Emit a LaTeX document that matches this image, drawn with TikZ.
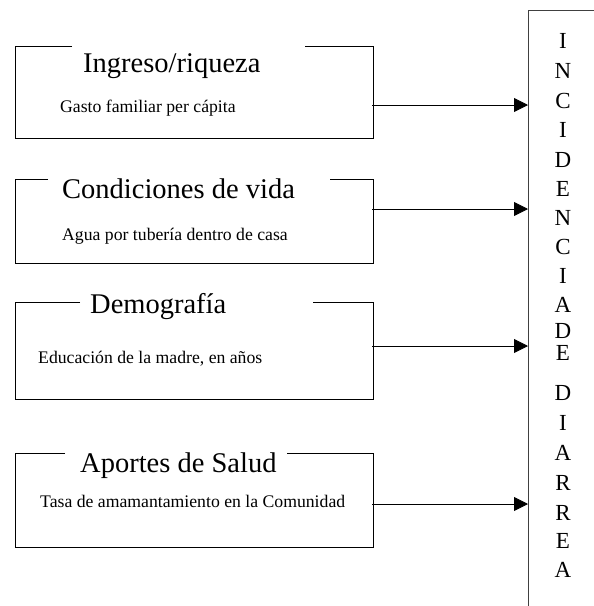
\documentclass[tikz,border=0pt]{standalone}
\usepackage{fontspec}
\setmainfont{Liberation Serif}
\usetikzlibrary{arrows.meta}

\begin{document}
\begin{tikzpicture}[x=1pt, y=-1pt,
        caja/.style={minimum width=358pt, inner sep=0pt, anchor=north west},
        titulo/.style={anchor=base west, inner sep=0pt, font=\fontsize{28.5}{34}\selectfont},
        texto/.style={anchor=base west, inner sep=0pt, font=\fontsize{17.7}{21}\selectfont},
        letra/.style={anchor=base, inner sep=0pt, font=\fontsize{23}{27}\selectfont},
        flecha/.style={-{Triangle[length=14pt, width=14pt]}, line width=0.8pt}]
        \useasboundingbox (0,0) rectangle (594,606);

        % incidencia de diarrea
        \node[anchor=north west, minimum width=66pt, minimum height=596pt, inner sep=0pt] (inc) at (528,10) {};
        \draw[line width=1pt, black!75] (inc.north east) -- (inc.north west) -- (inc.south west);
        \foreach \l/\yb[count=\i] in {I/48, N/78, C/108, I/137, D/167, E/196, N/225, C/254, I/283, A/312,
                D/338, E/360, D/400, I/430, A/460, R/490, R/520, E/548, A/577} {
            \node[letra] (l\i) at (563,\yb) {\l};
        }

        % cajas
        \node[caja, minimum height=92pt] (ing) at (15,46) {};
        \node[titulo] (ingT) at (83,72) {Ingreso/riqueza};
        \node[texto] (ingS) at (60,112) {Gasto familiar per cápita};

        \node[caja, minimum height=84pt] (cond) at (15,179) {};
        \node[titulo] (condT) at (62,198) {Condiciones de vida};
        \node[texto] (condS) at (62,240) {Agua por tubería dentro de casa};

        \node[caja, minimum height=97pt] (dem) at (15,302) {};
        \node[titulo] (demT) at (90,313) {Demografía};
        \node[texto] (demS) at (38,363) {Educación de la madre, en años};

        \node[caja, minimum height=94pt] (sal) at (15,453) {};
        \node[titulo] (salT) at (80,472) {Aportes de Salud};
        \node[texto] (salS) at (40,507) {Tasa de amamantamiento en la Comunidad};

        \foreach \n/\gl/\gr in {ing/57/68, cond/33/43, dem/65/60, sal/50/86} {
            \draw[line width=0.8pt] ([xshift=\gl pt]\n.north west) -- (\n.north west) -- (\n.south west)
                -- (\n.south east) -- (\n.north east) -- ([xshift=-\gr pt]\n.north east);
        }

        % flechas
        \foreach \n/\ay in {ing/105, cond/209, dem/346, sal/504} {
            \coordinate (a\n) at (372,\ay);
            \draw[flecha] (a\n) -- (a\n -| inc.west);
        }
    \end{tikzpicture}
\end{document}
